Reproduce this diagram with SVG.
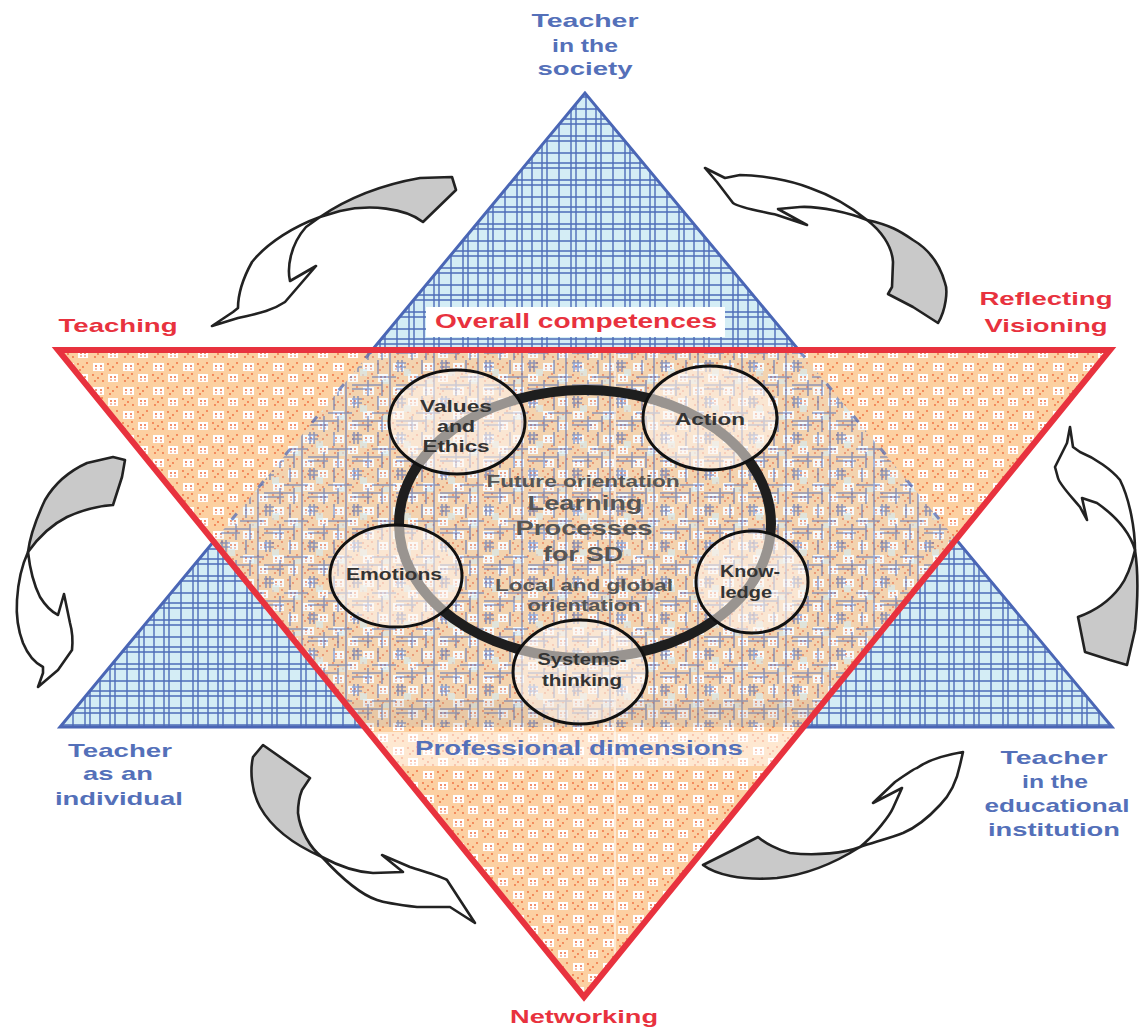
<svg xmlns="http://www.w3.org/2000/svg" width="1140" height="1029" viewBox="0 0 1140 1029">
<style>
text{font-family:"Liberation Sans",Arial,sans-serif;font-weight:bold;text-anchor:middle}
.blue{fill:#5470b9;font-size:19px}
.red{fill:#e8323e;font-size:19px}
.ct{fill:#333;font-size:16px}
.cen{fill:#555;font-size:16px}
.big{fill:#555;font-size:20px}
.arrow path{stroke:#222;stroke-width:2.6;stroke-linejoin:round}
.g{fill:#c9c9c9}
.w{fill:#fff}
.bub{fill:#fff6ee;fill-opacity:0.55;stroke:#111;stroke-width:3}
</style>
<defs>
<pattern id="bluegrid" width="54" height="44" patternUnits="userSpaceOnUse">
<rect width="54" height="44" fill="#d4edf5"/>
<path d="M2 0V44M7 0V44M19 0V44M31 0V44M36 0V44M46 0V44M0 4H54M0 9H54M0 21H54M0 31H54M0 36H54" stroke="#4d6cb8" stroke-width="1.4"/>
</pattern>
<pattern id="bluelines" width="44" height="36" patternUnits="userSpaceOnUse">
<rect x="8" y="9" width="7" height="7" fill="#d4edf5"/>
<rect x="31" y="19" width="6" height="5" fill="#d4edf5"/>
<path d="M2 0V12M6 0V12M16 20V36M26 0V14M30 20V36M38 0V36M0 3H10M0 7H10M20 17H44M0 25H30M0 29H20" stroke="#4d6cb8" stroke-width="1.6"/>
</pattern>
<pattern id="orange" width="30" height="24" patternUnits="userSpaceOnUse">
<rect width="30" height="24" fill="#fcd0a2"/>
<rect x="3" y="3" width="11" height="8" fill="#fff"/>
<rect x="18" y="14" width="10" height="8" fill="#fff"/>
<g fill="#ef6a3c">
<circle cx="6" cy="6" r="1"/><circle cx="11" cy="6" r="1"/><circle cx="6" cy="9" r="0.8"/><circle cx="11" cy="9" r="0.8"/>
<circle cx="21" cy="17" r="1"/><circle cx="25" cy="17" r="1"/><circle cx="21" cy="20" r="0.8"/><circle cx="25" cy="20" r="0.8"/>
<circle cx="18" cy="4" r="0.9"/><circle cx="23" cy="7" r="0.9"/><circle cx="27" cy="3" r="0.9"/><circle cx="20" cy="10" r="0.9"/>
<circle cx="3" cy="15" r="0.9"/><circle cx="8" cy="18" r="0.9"/><circle cx="12" cy="14" r="0.9"/><circle cx="5" cy="21" r="0.9"/><circle cx="13" cy="21" r="0.9"/>
</g>
</pattern>
<clipPath id="redclip"><polygon points="58,350 1110,350 584,997"/></clipPath>
<clipPath id="blueclip"><polygon points="585,93 60,727 1112,727"/></clipPath>
</defs>

<rect width="1140" height="1029" fill="#fff"/>

<g id="blue-triangle">
<polygon points="585,93 60,727 1112,727" fill="url(#bluegrid)" stroke="#4a66b5" stroke-width="3"/>
</g>

<g id="overall-box">
<rect x="426" y="307" width="299" height="30" fill="#fff"/>
<text class="red" x="576" y="328" style="font-size:21px" textLength="282" lengthAdjust="spacingAndGlyphs">Overall competences</text>
</g>

<g id="red-triangle">
<polygon points="58,350 1110,350 584,997" fill="url(#orange)"/>
<g clip-path="url(#redclip)">
<polygon points="585,93 60,727 1112,727" fill="#cfe6f0" fill-opacity="0.18"/>
<polygon points="585,93 60,727 1112,727" fill="url(#bluelines)" opacity="0.6"/>
<rect x="60" y="700" width="1050" height="27" fill="#b08a70" opacity="0.15" clip-path="url(#blueclip)"/>
<rect x="60" y="732" width="1050" height="34" fill="#fff" opacity="0.5"/>
<path d="M585,93 L60,727 M585,93 L1112,727" stroke="#4a66b5" stroke-width="3" stroke-dasharray="8 34" opacity="0.7"/>
<line x1="615" y1="350" x2="615" y2="997" stroke="#fff" stroke-width="1.2" opacity="0.8"/>
</g>
<polygon points="58,350 1110,350 584,997" fill="none" stroke="#e8323e" stroke-width="6"/>
<text class="blue" x="579" y="755" style="font-size:20px" textLength="328" lengthAdjust="spacingAndGlyphs">Professional dimensions</text>
</g>

<g id="ring">
<ellipse cx="585" cy="524" rx="186" ry="134" fill="none" stroke="#1e1e1e" stroke-width="10"/>
</g>

<g id="center-text">
<text class="cen" x="583" y="487" textLength="193" lengthAdjust="spacingAndGlyphs">Future orientation</text>
<text class="big" x="585" y="510" textLength="115" lengthAdjust="spacingAndGlyphs">Learning</text>
<text class="big" x="584" y="535" textLength="137" lengthAdjust="spacingAndGlyphs">Processes</text>
<text class="big" x="583" y="561" textLength="80" lengthAdjust="spacingAndGlyphs">for SD</text>
<text class="cen" x="584" y="591" textLength="178" lengthAdjust="spacingAndGlyphs">Local and global</text>
<text class="cen" x="584" y="611" textLength="113" lengthAdjust="spacingAndGlyphs">orientation</text>
</g>

<g id="node-values">
<ellipse class="bub" cx="457" cy="422" rx="68" ry="52"/>
<text class="ct" x="456" y="412" textLength="72" lengthAdjust="spacingAndGlyphs">Values</text>
<text class="ct" x="456" y="432" textLength="38" lengthAdjust="spacingAndGlyphs">and</text>
<text class="ct" x="456" y="452" textLength="67" lengthAdjust="spacingAndGlyphs">Ethics</text>
</g>
<g id="node-action">
<ellipse class="bub" cx="710" cy="418" rx="67" ry="52"/>
<text class="ct" x="710" y="425" textLength="70" lengthAdjust="spacingAndGlyphs">Action</text>
</g>
<g id="node-emotions">
<ellipse class="bub" cx="396" cy="576" rx="66" ry="51"/>
<text class="ct" x="394" y="580" textLength="96" lengthAdjust="spacingAndGlyphs">Emotions</text>
</g>
<g id="node-knowledge">
<ellipse class="bub" cx="752" cy="582" rx="56" ry="51"/>
<text class="ct" x="750" y="577" textLength="60" lengthAdjust="spacingAndGlyphs">Know-</text>
<text class="ct" x="746" y="598" textLength="52" lengthAdjust="spacingAndGlyphs">ledge</text>
</g>
<g id="node-systems">
<ellipse class="bub" cx="580" cy="672" rx="67" ry="52"/>
<text class="ct" x="582" y="665" textLength="89" lengthAdjust="spacingAndGlyphs">Systems-</text>
<text class="ct" x="582" y="686" textLength="80" lengthAdjust="spacingAndGlyphs">thinking</text>
</g>

<g id="label-society">
<text class="blue" x="585" y="27" textLength="107" lengthAdjust="spacingAndGlyphs">Teacher</text>
<text class="blue" x="585" y="52" textLength="66" lengthAdjust="spacingAndGlyphs">in the</text>
<text class="blue" x="585" y="75" textLength="95" lengthAdjust="spacingAndGlyphs">society</text>
</g>
<g id="label-teaching">
<text class="red" x="118" y="332" textLength="119" lengthAdjust="spacingAndGlyphs">Teaching</text>
</g>
<g id="label-reflecting">
<text class="red" x="1046" y="305" textLength="133" lengthAdjust="spacingAndGlyphs">Reflecting</text>
<text class="red" x="1046" y="332" textLength="123" lengthAdjust="spacingAndGlyphs">Visioning</text>
</g>
<g id="label-individual">
<text class="blue" x="120" y="757" textLength="104" lengthAdjust="spacingAndGlyphs">Teacher</text>
<text class="blue" x="118" y="780" textLength="70" lengthAdjust="spacingAndGlyphs">as an</text>
<text class="blue" x="119" y="805" textLength="128" lengthAdjust="spacingAndGlyphs">individual</text>
</g>
<g id="label-institution">
<text class="blue" x="1054" y="764" textLength="107" lengthAdjust="spacingAndGlyphs">Teacher</text>
<text class="blue" x="1055" y="788" textLength="66" lengthAdjust="spacingAndGlyphs">in the</text>
<text class="blue" x="1057" y="812" textLength="145" lengthAdjust="spacingAndGlyphs">educational</text>
<text class="blue" x="1054" y="836" textLength="132" lengthAdjust="spacingAndGlyphs">institution</text>
</g>
<g id="label-networking">
<text class="red" x="584" y="1023" textLength="148" lengthAdjust="spacingAndGlyphs">Networking</text>
</g>

<g id="connectors" class="arrow">
<g id="arrow-top-left">
<path class="g" d="M320,217 C345,200 380,185 420,178 L452,177 L456,190 L423,222 C405,208 370,204 340,211 Z"/>
<path class="w" d="M320,217 C295,226 268,242 252,262 C242,280 238,296 238,308 L233,312 L212,326 L238,318 C255,314 270,312 285,302 L316,266 L290,281 C287,268 290,245 306,227 Z"/>
</g>
<g id="arrow-top-right">
<path class="g" d="M867,220 C880,230 892,245 893,262 L892,287 L888,294 L913,307 L938,323 C946,310 948,290 945,283 C940,265 930,250 913,240 C900,231 890,225 867,220 Z"/>
<path class="w" d="M867,220 C850,213 820,206 800,207 L778,209 L807,225 L777,215 C760,211 740,208 733,203 L717,182 L705,168 L725,178 L740,175 C760,175 790,180 810,188 C830,195 850,206 867,220 Z"/>
</g>
<g id="arrow-right">
<path class="g" d="M1135,550 C1138,570 1138,600 1135,630 L1127,665 L1110,660 L1085,652 L1078,617 C1092,612 1108,603 1120,587 C1127,578 1132,563 1135,550 Z"/>
<path class="w" d="M1135,550 C1130,533 1117,517 1097,503 L1082,498 L1087,520 L1080,507 C1070,495 1060,485 1058,478 L1055,467 L1067,443 L1070,427 L1073,447 L1080,452 C1095,458 1112,470 1120,480 C1130,500 1135,530 1135,550 Z"/>
</g>
<g id="arrow-bottom-right">
<path class="g" d="M860,847 C845,853 817,856 790,853 C778,850 765,843 758,837 L733,850 L703,865 C715,874 740,881 777,878 C805,875 830,866 860,847 Z"/>
<path class="w" d="M860,847 C875,835 890,815 893,808 L902,788 L873,803 L895,782 C905,775 915,768 917,768 C928,760 945,755 963,752 L960,765 C957,780 950,795 940,805 C928,818 915,828 903,833 C890,838 875,842 860,847 Z"/>
</g>
<g id="arrow-bottom-left">
<path class="g" d="M322,857 C310,848 300,830 298,813 C298,800 300,795 302,790 L310,778 L263,745 L253,757 C250,770 251,790 260,807 C270,825 290,843 322,857 Z"/>
<path class="w" d="M322,857 C335,864 355,872 373,873 L403,872 L382,855 L410,867 C425,872 440,876 447,880 L460,900 L475,923 L450,907 C440,907 425,907 417,907 C400,905 385,903 377,900 C362,895 345,882 322,857 Z"/>
</g>
<g id="arrow-left">
<path class="g" d="M28,552 C30,535 37,517 45,500 C52,488 65,473 87,463 L113,457 L125,460 L122,477 L113,505 C100,506 82,510 67,517 C55,523 40,535 28,552 Z"/>
<path class="w" d="M28,552 C22,565 18,583 17,600 C16,615 18,630 23,643 C28,655 35,663 43,667 L43,673 L38,687 L58,670 L72,650 C73,640 72,630 70,623 L64,594 L58,615 C52,612 45,605 40,597 C34,585 30,570 28,552 Z"/>
</g>
</g>
</svg>
